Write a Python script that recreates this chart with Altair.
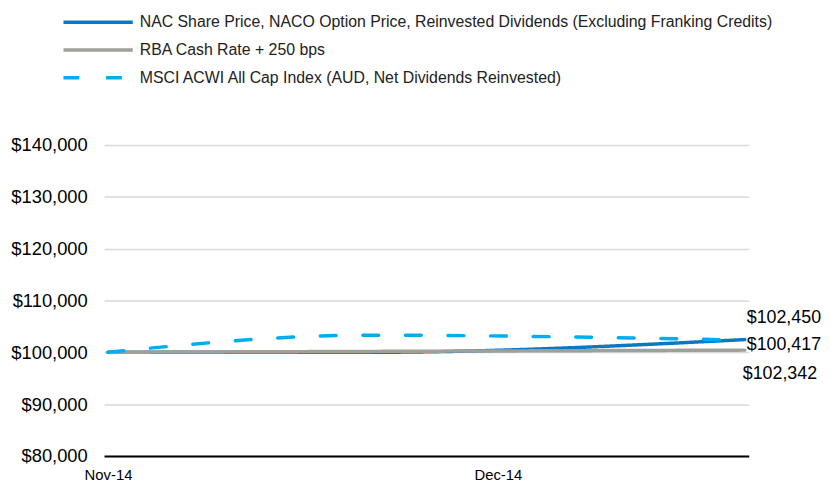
import altair as alt
import pandas as pd

# ---- data ----
dates = ["2014-11-01", "2014-11-21", "2014-12-20"]
series_names = [
    "NAC Share Price, NACO Option Price, Reinvested Dividends (Excluding Franking Credits)",
    "RBA Cash Rate + 250 bps",
    "MSCI ACWI All Cap Index (AUD, Net Dividends Reinvested)",
]
nac_values = [100000, 100000, 102450]
rba_values = [100000, 100170, 100417]
msci_values = [100000, 103300, 102342]
y_ticks = [80000, 90000, 100000, 110000, 120000, 130000, 140000]
x_ticks = ["2014-11-01", "2014-12-01"]

# ---- styles ----
colors = ["#0A78C2", "#A0A09B", "#00AEEF"]
dashes = [[1, 0], [1, 0], [16, 27]]
widths = [3.5, 3.5, 5.5]
label_dy = [-22, -5, 34]
label_dx = [2, 2, -2]
FONT = "Liberation Sans"

rows = []
for name, vals in zip(series_names, [nac_values, rba_values, msci_values]):
    for d, v in zip(dates, vals):
        rows.append({"date": d, "series": name, "value": v})
df = pd.DataFrame(rows)

x_enc = alt.X(
    "date:T",
    title=None,
    scale=alt.Scale(padding=4),
    axis=alt.Axis(
        values=[pd.Timestamp(t).isoformat() for t in x_ticks],
        format="%b-%y",
        labelFontSize=15,
        labelColor="#000000",
        labelFont=FONT,
        ticks=False,
        grid=False,
        domainColor="#000000",
        domainWidth=2,
        labelPadding=12,
        labelAlign="center",
    ),
)
y_enc = alt.Y(
    "value:Q",
    title=None,
    scale=alt.Scale(domain=[80000, 140000], nice=False, zero=False),
    axis=alt.Axis(
        values=y_ticks,
        format="$,.0f",
        labelFontSize=18.5,
        labelColor="#000000",
        labelFont=FONT,
        ticks=False,
        domain=False,
        gridColor="#D9D9D9",
        gridWidth=1.5,
        labelPadding=17,
    ),
)

lines = alt.Chart(df).mark_line(strokeCap="round", interpolate="monotone").encode(
    x=x_enc,
    y=y_enc,
    color=alt.Color(
        "series:N",
        title=None,
        scale=alt.Scale(domain=series_names, range=colors),
        legend=alt.Legend(
            orient="none",
            legendX=-15,
            legendY=-133,
            symbolType="M-5,0H5",
            symbolSize=196,
            symbolStrokeWidth=4.5,
            labelFontSize=16,
            labelFont=FONT,
            labelColor="#222222",
            labelLimit=1000,
            rowPadding=11,
            labelOffset=33,
        ),
    ),
    strokeDash=alt.StrokeDash(
        "series:N",
        title=None,
        scale=alt.Scale(domain=series_names, range=dashes),
    ),
    strokeWidth=alt.StrokeWidth(
        "series:N",
        scale=alt.Scale(domain=series_names, range=widths),
        legend=None,
    ),
)

layers = [lines]
last = df[df["date"] == dates[-1]]
for name, dy, dx in zip(series_names, label_dy, label_dx):
    sub = last[last["series"] == name]
    layers.append(
        alt.Chart(sub).mark_text(
            align="left", baseline="middle", dx=dx, dy=dy,
            fontSize=18, font=FONT, color="#000000",
        ).encode(
            x=alt.X("date:T"),
            y=alt.Y("value:Q"),
            text=alt.Text("value:Q", format="$,.0f"),
        )
    )

chart = alt.layer(*layers).properties(
    width=651,
    height=314,
    autosize="none",
    background="#ffffff",
    padding={"left": 97, "top": 136, "right": 75, "bottom": 25},
).configure_view(stroke=None)

chart.save("out.html", embed_options={"renderer": "svg", "actions": False})
